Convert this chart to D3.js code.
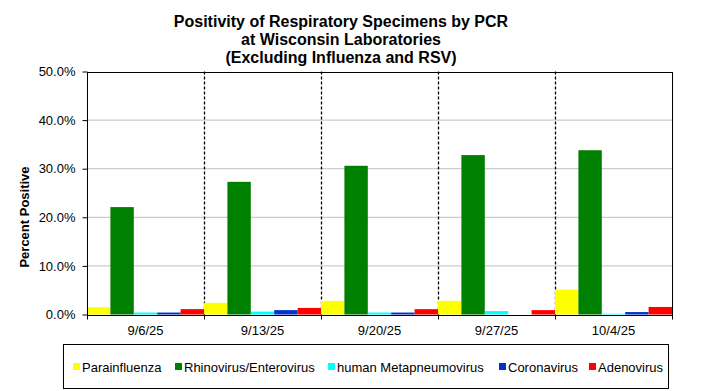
<!DOCTYPE html>
<html><head><meta charset="utf-8">
<script src="https://cdn.jsdelivr.net/npm/d3@7"></script>
<style>body{margin:0;background:#fff}svg{display:block}text{font-family:"Liberation Sans",Arial,sans-serif}</style>
</head><body><svg id="c" width="704" height="391"></svg>
<script>
const categories = ["9/6/25","9/13/25","9/20/25","9/27/25","10/4/25"];
const seriesNames = ["Parainfluenza","Rhinovirus/Enterovirus","human Metapneumovirus","Coronavirus","Adenovirus"];
const parainfluenza = [1.5, 2.4, 2.8, 2.8, 5.1];
const rhinoEntero   = [22.1, 27.3, 30.6, 32.8, 33.8];
const hMPV          = [0.4, 0.6, 0.4, 0.7, 0.15];
const coronavirus   = [0.4, 0.9, 0.4, 0.0, 0.5];
const adenovirus    = [1.1, 1.35, 1.1, 0.9, 1.55];
const yTicks = [0,10,20,30,40,50];
const colors = ["#FFFF00","#008000","#00FFFF","#0033CC","#FF0000"];
const titleLines = ["Positivity of Respiratory Specimens by PCR","at Wisconsin Laboratories","(Excluding Influenza and RSV)"];

const series = [parainfluenza, rhinoEntero, hMPV, coronavirus, adenovirus];
const svg = d3.select("#c");
const L=87, R=672, T=71.5, B=314.5;
const x0 = d3.scaleBand().domain(categories).range([L,R]).padding(0);
const x1 = d3.scaleBand().domain(d3.range(series.length)).range([0,x0.bandwidth()]).padding(0);
const y = d3.scaleLinear().domain([0,50]).range([B,T]);

// gridlines
svg.append("g").selectAll("line").data(yTicks.filter(t=>t>0&&t<50)).join("line")
  .attr("x1",L).attr("x2",R).attr("y1",d=>y(d)).attr("y2",d=>y(d))
  .attr("stroke","#c0c0c0").attr("stroke-width",1);

// dashed separators
svg.append("g").selectAll("line").data(categories.slice(1)).join("line")
  .attr("x1",d=>Math.round(x0(d))+0.5).attr("x2",d=>Math.round(x0(d))+0.5).attr("y1",T).attr("y2",B)
  .attr("stroke","#000").attr("stroke-width",1.3).attr("stroke-dasharray","3,2");

// bars
const g = svg.append("g");
categories.forEach((c,i)=>{
  series.forEach((s,j)=>{
    if(s[i]<=0) return;
    g.append("rect").attr("x",x0(c)+x1(j)).attr("width",x1.bandwidth())
     .attr("y",y(s[i])).attr("height",B-y(s[i])).attr("fill",colors[j]);
  });
});

// plot border
svg.append("rect").attr("x",L+0.5).attr("y",Math.round(T)+0.5).attr("width",R-L).attr("height",Math.round(B)-Math.round(T))
  .attr("fill","none").attr("stroke","#000").attr("stroke-width",1);

// axes
const yAxis = d3.axisLeft(y).tickValues(yTicks).tickFormat(d=>d.toFixed(1)+"%").tickSizeOuter(0).tickSize(5).tickPadding(7);
const ya = svg.append("g").attr("transform",`translate(${L+0.5},0)`).call(yAxis);
ya.select(".domain").remove();
ya.selectAll("text").attr("font-size",13).attr("font-family","Liberation Sans, Arial").attr("fill","#000");
ya.selectAll("line").attr("stroke","#000");

const bounds = categories.map(c=>x0(c)).concat([R]);
svg.append("g").selectAll("line").data(bounds).join("line")
  .attr("x1",d=>Math.round(d)+0.5).attr("x2",d=>Math.round(d)+0.5).attr("y1",B).attr("y2",B+5).attr("stroke","#000");
svg.append("g").selectAll("text").data(categories).join("text")
  .attr("x",d=>x0(d)+x0.bandwidth()/2).attr("y",B+20).attr("text-anchor","middle")
  .attr("font-size",13).text(d=>d);

// y label
svg.append("text").attr("transform","translate(29,217) rotate(-90)").attr("text-anchor","middle")
  .attr("font-size",13).attr("font-weight","bold").text("Percent Positive");

// title
svg.append("g").selectAll("text").data(titleLines).join("text")
  .attr("x",341).attr("y",(d,i)=>27+i*18).attr("text-anchor","middle")
  .attr("font-size",16).attr("font-weight","bold").text(d=>d);

// legend
svg.append("rect").attr("x",63.5).attr("y",344.5).attr("width",605).attr("height",44).attr("fill","#fff").attr("stroke","#000");
const legX = [73,175,328,499,589];
const lg = svg.append("g").selectAll("g").data(seriesNames).join("g")
  .attr("transform",(d,i)=>`translate(${legX[i]},0)`);
lg.append("rect").attr("x",0).attr("y",363).attr("width",7).attr("height",7).attr("fill",(d,i)=>colors[i]);
lg.append("text").attr("x",9).attr("y",371.5).attr("font-size",13).text(d=>d);
</script></body></html>
